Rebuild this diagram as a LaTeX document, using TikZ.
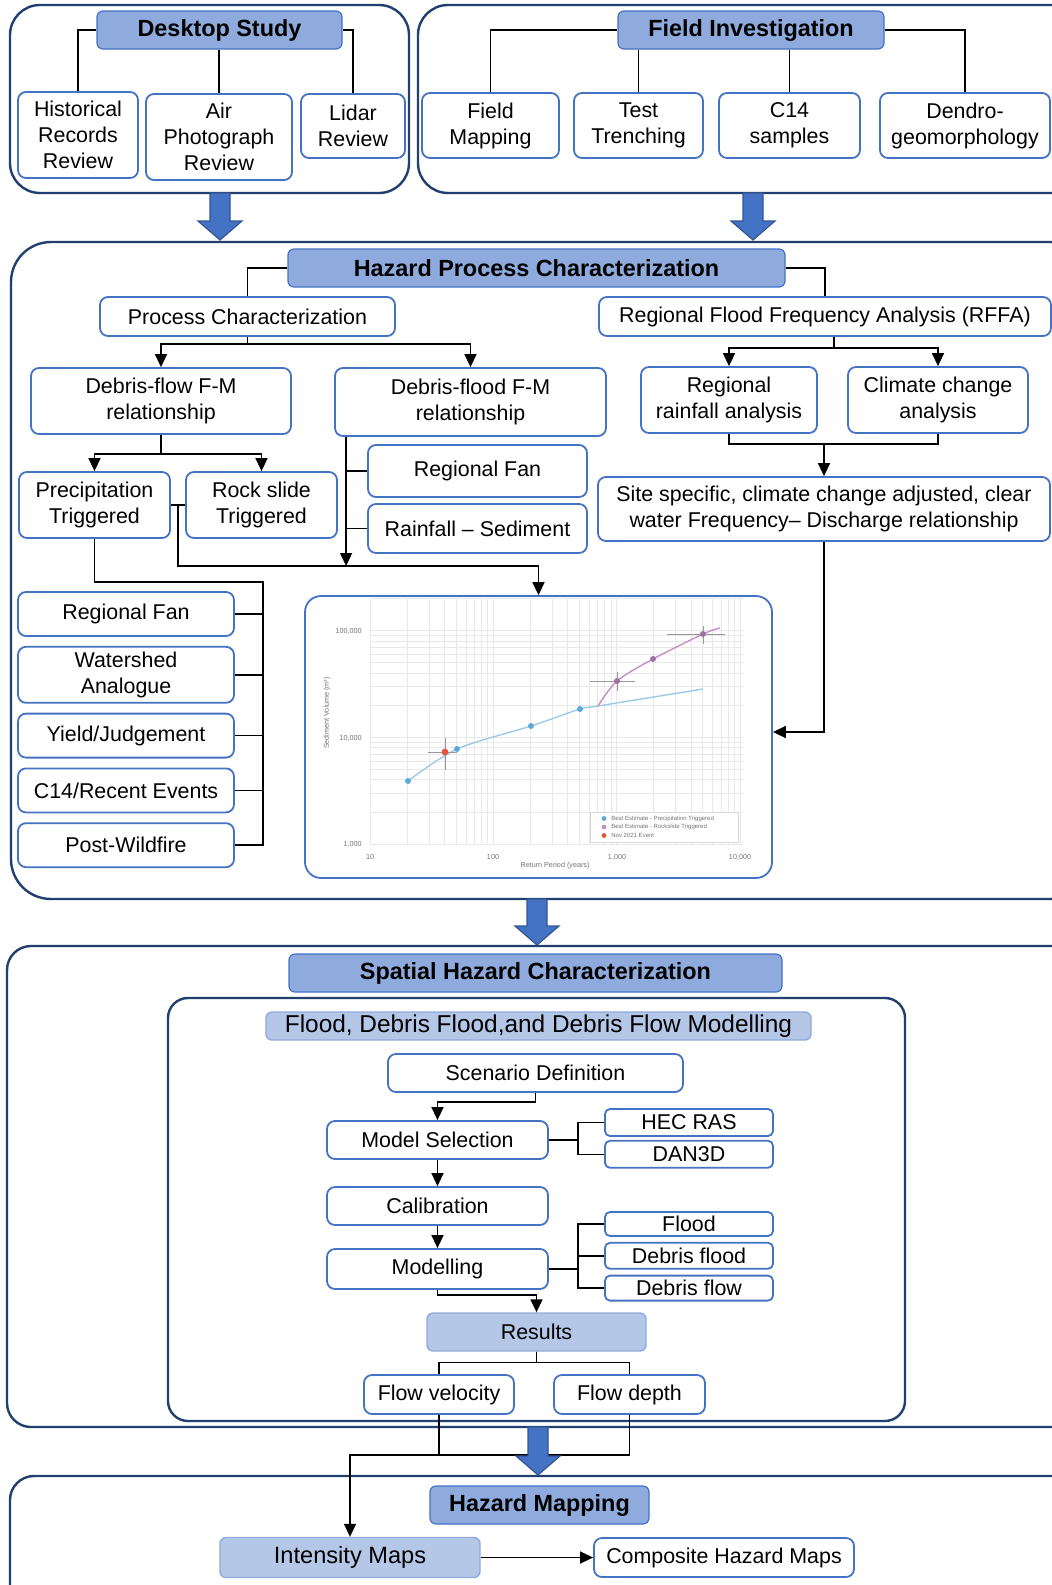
\documentclass[tikz,border=0pt]{standalone}
\usepackage{fontspec}
\setmainfont{Liberation Sans}
\usepackage{tikz}
\usetikzlibrary{arrows.meta,calc,positioning}

\definecolor{hdrfill}{HTML}{8FAADC}
\definecolor{litefill}{HTML}{B4C7E7}
\definecolor{boxblue}{HTML}{4472C4}
\definecolor{frameblue}{HTML}{22406F}
\definecolor{chartblue}{HTML}{5FA8DC}
\definecolor{chartline}{HTML}{9CCBEA}
\definecolor{chartpink}{HTML}{C58FC8}
\definecolor{chartred}{HTML}{E2553A}

\newcommand{\blockarrow}[3]{%
  \filldraw[fill=boxblue, draw=boxblue!75!black, line width=.6pt]
    (#1-10,#2) -- (#1+10,#2) -- (#1+10,#3-19) -- (#1+22,#3-19) -- (#1,#3)
    -- (#1-22,#3-19) -- (#1-10,#3-19) -- cycle;}

\begin{document}
\begin{tikzpicture}[x=0.5pt, y=-0.5pt,
    font=\fontsize{10.7}{13}\selectfont,
    outer/.style={draw=frameblue, line width=1.2pt, rounded corners=#1},
    procbox/.style={draw=boxblue, line width=.9pt, fill=white, rounded corners=4pt,
        align=center, inner sep=0pt},
    smallbox/.style={procbox, rounded corners=2.5pt},
    headbox/.style={procbox, fill=hdrfill, line width=.6pt, rounded corners=3pt,
        font=\fontsize{11.7}{14}\selectfont\bfseries},
    litebox/.style={procbox, fill=litefill, draw=hdrfill, line width=.7pt, rounded corners=3pt},
    boxsize/.style 2 args={minimum width=#1*0.5pt, minimum height=#2*0.5pt},
    con/.style={line width=.75pt},
    arr/.style={con, -{Triangle[width=6pt,length=6.5pt]}},
    chartgrid/.style={draw=black!9, line width=.3pt},
    charttxt/.style={font=\fontsize{3.6}{4}\selectfont, text=black!55, inner sep=0pt},
    legtxt/.style={font=\fontsize{3}{4}\selectfont, text=black!55, inner sep=0pt}]

    \useasboundingbox (0,0) rectangle (1052,1585);
    \clip (0,0) rectangle (1052,1585);

    % desktop study
    \draw[outer=15pt] (10,5) rectangle (409,193);
    \node[headbox, boxsize={245}{38}] (dsk) at (219.5,30) {Desktop Study};
    \node[procbox, boxsize={120}{86}] (hist) at (78,135) {Historical\\Records\\Review};
    \node[procbox, boxsize={146}{86}] (air) at (219,137) {Air\\Photograph\\Review};
    \node[procbox, boxsize={104}{64}] (lidar) at (353,126) {Lidar\\Review};
    \draw[con] (dsk.west) -| (hist.north);
    \draw[con] (air.north |- dsk.south) -- (air.north);
    \draw[con] (dsk.east) -| (lidar.north);

    % field investigation
    \draw[outer=15pt] (418,5) rectangle (1090,193);
    \node[headbox, boxsize={266}{38}] (fld) at (751,30) {Field Investigation};
    \node[procbox, boxsize={137}{65}] (fmap) at (490.5,125.5) {Field\\Mapping};
    \node[procbox, boxsize={129}{65}] (trench) at (638.5,125.5) {Test\\Trenching};
    \node[procbox, boxsize={141}{65}] (c14) at (789.5,125.5) {C14\\samples};
    \node[procbox, boxsize={170}{65}] (dendro) at (965,125.5) {Dendro-\\geomorphology};
    \draw[con] (fld.west) -| (fmap.north);
    \draw[con] (trench.north |- fld.south) -- (trench.north);
    \draw[con] (c14.north |- fld.south) -- (c14.north);
    \draw[con] (fld.east) -| (dendro.north);

    \blockarrow{220}{193}{240}
    \blockarrow{753}{193}{240}

    % hazard process characterization
    \draw[outer=20pt] (11,242) rectangle (1090,899);
    \node[headbox, boxsize={497}{38}] (hpc) at (536.5,268) {Hazard Process Characterization};
    \node[procbox, boxsize={295}{39}] (pchar) at (247.5,316.5) {Process Characterization};
    \node[procbox, boxsize={452}{39}] (rffa) at (825,316.5) {Regional Flood Frequency Analysis (RFFA)};
    \draw[con] (hpc.west) -| (pchar.north);
    \draw[con] (hpc.east) -| (rffa.north);

    \node[procbox, boxsize={260}{66}] (dflow) at (161,401) {Debris-flow F-M\\relationship};
    \node[procbox, boxsize={271}{68}] (dflood) at (470.5,402) {Debris-flood F-M\\relationship};
    \draw[arr] (pchar.south) -- ++(0,7) -| (dflow.north);
    \draw[arr] (pchar.south) -- ++(0,7) -| (dflood.north);

    \node[procbox, boxsize={176}{66}] (rrain) at (729,400) {Regional\\rainfall analysis};
    \node[procbox, boxsize={180}{66}] (clim) at (938,400) {Climate change\\analysis};
    \draw[arr] ($(rffa.south)+(9,0)$) -- ++(0,11) -| (rrain.north);
    \draw[arr] ($(rffa.south)+(9,0)$) -- ++(0,11) -| (clim.north);
    \node[procbox, boxsize={452}{64}] (site) at (824,509)
        {Site specific, climate change adjusted, clear\\water Frequency– Discharge relationship};
    \draw[con] (rrain.south) -- ++(0,10) coordinate (rj) -| (clim.south);
    \draw[arr] (rj -| site.north) -- (site.north);

    \node[procbox, boxsize={151}{66}] (precip) at (94.5,505) {Precipitation\\Triggered};
    \node[procbox, boxsize={151}{66}] (rock) at (261.5,505) {Rock slide\\Triggered};
    \draw[arr] (dflow.south) -- ++(0,19) -| (precip.north);
    \draw[arr] (dflow.south) -- ++(0,19) -| (rock.north);

    \node[procbox, boxsize={219}{52}] (rfan) at (477.5,471) {Regional Fan};
    \node[procbox, boxsize={219}{49}] (rsed) at (477.5,528.5) {Rainfall – Sediment};

    % sediment volume chart
    \node[procbox, rounded corners=8pt, boxsize={467}{282}] (chart) at (538.5,737) {};
    \foreach \d in {0,1,2}{\foreach \m in {1,...,9}{
        \draw[chartgrid] ({370+123.3*(\d+log10(\m))},598) -- ++(0,246);}}
    \draw[chartgrid] (740,598) -- ++(0,246);
    \foreach \d in {0,1}{\foreach \m in {1,...,9}{
        \draw[chartgrid] (370,{844-106.7*(\d+log10(\m))}) -- ++(373,0);}}
    \foreach \m in {1,2}{\draw[chartgrid] (370,{844-106.7*(2+log10(\m))}) -- ++(373,0);}
    \draw[chartline, line width=.7pt] plot[smooth] coordinates
        {(408,781) (457,749) (531,726) (580,709) (598,706) (703,689)};
    \draw[chartpink, line width=.7pt] plot[smooth] coordinates
        {(598,706) (617,681) (653,659) (703,634) (720,628)};
    \draw[black!40, line width=.4pt] (428,752) -- (457,752) (445,738) -- (445,770)
        (590,681) -- (635,681) (617,672) -- (617,691)
        (667,634) -- (725,634) (703,626) -- (703,644);
    \foreach \p in {(408,781),(457,749),(531,726),(580,709)}{\fill[chartblue] \p circle (1.5pt);}
    \foreach \p in {(617,681),(653,659),(703,634)}{\fill[chartpink!80!black] \p circle (1.5pt);}
    \fill[chartred] (445,752) circle (1.7pt);
    \node[charttxt, anchor=east] (yt1) at (362,631) {100,000};
    \node[charttxt, anchor=east] (yt2) at (362,738) {10,000};
    \node[charttxt, anchor=east] (yt3) at (362,844) {1,000};
    \node[charttxt] (xt1) at (370,857) {10};
    \node[charttxt] (xt2) at (493,857) {100};
    \node[charttxt] (xt3) at (617,857) {1,000};
    \node[charttxt] (xt4) at (740,857) {10,000};
    \node[charttxt, rotate=90] (ytitle) at (327,713) {Sediment Volume (m³)};
    \node[charttxt] (xtitle) at (555,866) {Return Period (years)};
    \node[draw=black!15, fill=white, boxsize={148}{30}, inner sep=0pt] (legend) at (664,827) {};
    \foreach \c/\t [count=\i] in {chartblue/{Best Estimate - Precipitation Triggered},
        chartpink/{Best Estimate - Rockslide Triggered}, chartred/{Nov 2021 Event}}{
        \fill[\c] (604,{810+8.5*\i}) circle (1.2pt);
        \node[legtxt, anchor=west] (leg\i) at (611,{810+8.5*\i}) {\t};}

    % links into the chart
    \draw[con] (precip.east) -- (rock.west);
    \coordinate (pr) at ($(precip.east)!0.5!(rock.west)$);
    \draw[arr] (pr) -- ++(0,61) coordinate (jn) -| (chart.north);
    \coordinate (tap) at ($(dflood.south west)+(12,0)$);
    \draw[arr] (tap) -- (tap |- jn);
    \draw[con] (rfan.west) -- (rfan.west -| tap);
    \draw[con] (rsed.west) -- (rsed.west -| tap);
    \draw[arr] (site.south) |- ($(chart.east)+(0,-5)$);

    \node[procbox, boxsize={216}{44}] (lfan) at (126,614) {Regional Fan};
    \node[procbox, boxsize={216}{56}, below=4.5pt of lfan] (wshed) {Watershed\\Analogue};
    \node[procbox, boxsize={216}{44}, below=4.5pt of wshed] (yield) {Yield/Judgement};
    \node[procbox, boxsize={216}{44}, below=4.5pt of yield] (c14r) {C14/Recent Events};
    \node[procbox, boxsize={216}{44}, below=4.5pt of c14r] (pwild) {Post-Wildfire};
    \draw[con] (precip.south) -- ++(0,43) -- ++(168.5,0) coordinate (bus)
        -- (bus |- pwild.east) -- (pwild.east);
    \foreach \n in {lfan,wshed,yield,c14r}{\draw[con] (\n.east) -- (\n.east -| bus);}

    \blockarrow{537}{899}{945}

    % spatial hazard characterization
    \draw[outer=12pt] (7,946) rectangle (1090,1427);
    \node[headbox, boxsize={493}{38}] (sphc) at (535.5,973) {Spatial Hazard Characterization};
    \draw[outer=10pt] (168,998) rectangle (905,1421);
    \node[litebox, boxsize={545}{28}, font=\fontsize{12.2}{14}\selectfont] (fmod) at (538.5,1026)
        {Flood, Debris Flood,and Debris Flow Modelling};
    \node[procbox, boxsize={295}{38}] (scen) at (535.5,1073) {Scenario Definition};
    \node[procbox, boxsize={221}{38}] (msel) at (437.5,1140) {Model Selection};
    \node[smallbox, boxsize={168}{27}] (hec) at (689,1122.5) {HEC RAS};
    \node[smallbox, boxsize={168}{27}, below=1.5pt of hec] (dan) {DAN3D};
    \node[procbox, boxsize={221}{38}] (calib) at (437.5,1206) {Calibration};
    \node[procbox, boxsize={221}{40}] (model) at (437.5,1269) {Modelling};
    \node[smallbox, boxsize={168}{24}] (flood) at (689,1224) {Flood};
    \node[smallbox, boxsize={168}{26}, below=2.5pt of flood] (dfl) {Debris flood};
    \node[smallbox, boxsize={168}{25}, below=2.5pt of dfl] (dfw) {Debris flow};
    \draw[arr] (scen.south) -- ++(0,9) -| (msel.north);
    \draw[con] (msel.east) -- ++(29,0) coordinate (msb);
    \draw[con] (hec.west) -| (msb) |- (dan.west);
    \draw[arr] (msel) -- (calib);
    \draw[arr] (calib) -- (model);
    \draw[con] (model.east) -- ++(29,0) coordinate (mdb);
    \draw[con] (flood.west) -| (mdb) |- (dfw.west);
    \draw[con] (dfl.west) -- (dfl.west -| mdb);

    \node[litebox, boxsize={219}{38}] (res) at (536.5,1332) {Results};
    \draw[arr] (model.south) -- ++(0,5) -| (res.north);
    \node[procbox, boxsize={150}{39}] (fvel) at (439,1394.5) {Flow velocity};
    \node[procbox, boxsize={151}{39}] (fdep) at (629.5,1394.5) {Flow depth};
    \draw[con] (res.south) -- ++(0,11) -| (fvel.north);
    \draw[con] (res.south) -- ++(0,11) -| (fdep.north);

    % hazard mapping
    \draw[outer=12pt] (10,1476) rectangle (1090,1640);
    \node[headbox, boxsize={219}{38}] (hmap) at (539.5,1505) {Hazard Mapping};
    \node[litebox, boxsize={260}{40}, font=\fontsize{11.8}{14}\selectfont] (imap) at (350,1557.5) {Intensity Maps};
    \node[procbox, boxsize={260}{39}] (cmap) at (724,1557.5) {Composite Hazard Maps};
    \draw[con] (fvel.south) -- ++(0,40);
    \draw[arr] (fdep.south) -- ++(0,40) -| (imap.north);
    \draw[arr] (imap) -- (cmap);

    \blockarrow{538}{1427}{1475}

\end{tikzpicture}
\end{document}
